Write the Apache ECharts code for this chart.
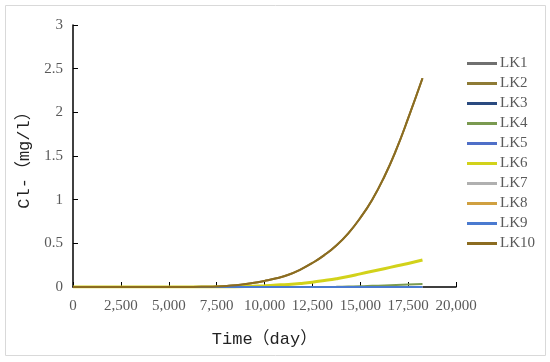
<!DOCTYPE html>
<html>
<head>
<meta charset="utf-8">
<script src="https://cdn.jsdelivr.net/npm/echarts@6/dist/echarts.min.js"></script>
<style>
  html, body { margin: 0; padding: 0; background: #fff; }
  #chart { width: 550px; height: 362px; }
</style>
</head>
<body>
<div id="chart"></div>
<script>
// time in days
const days = [0, 2500, 5000, 6250, 6875, 7500, 8125, 8750, 9375, 10000, 10625, 11250, 11875,
  12500, 13125, 13750, 14375, 15000, 15625, 16250, 16875, 17500, 18250];

const zeros = [0, 0, 0, 0, 0, 0, 0, 0, 0, 0, 0, 0, 0, 0, 0, 0, 0, 0, 0, 0, 0, 0, 0];
const lk1 = zeros;
const lk2 = [0, 0, 0, 0.001, 0.003, 0.006, 0.014, 0.026, 0.045, 0.07, 0.1, 0.14, 0.2,
  0.275, 0.365, 0.475, 0.615, 0.79, 1.0, 1.26, 1.57, 1.93, 2.39];
const lk3 = zeros;
const lk4 = [0, 0, 0, 0, 0, 0, 0, 0, 0, 0, 0, 0, 0,
  0, 0, 0.002, 0.005, 0.008, 0.013, 0.018, 0.023, 0.028, 0.034];
const lk5 = zeros;
const lk6 = [0, 0, 0, 0, 0, 0, 0.001, 0.004, 0.009, 0.015, 0.022, 0.03, 0.041,
  0.055, 0.074, 0.095, 0.12, 0.15, 0.18, 0.21, 0.24, 0.27, 0.31];
const lk7 = zeros;
const lk8 = zeros;
const lk9 = zeros;
const lk10 = [0, 0, 0, 0.001, 0.003, 0.006, 0.014, 0.026, 0.045, 0.07, 0.1, 0.14, 0.2,
  0.275, 0.365, 0.475, 0.615, 0.79, 1.0, 1.26, 1.57, 1.93, 2.39];

const names = ["LK1", "LK2", "LK3", "LK4", "LK5", "LK6", "LK7", "LK8", "LK9", "LK10"];
const values = [lk1, lk2, lk3, lk4, lk5, lk6, lk7, lk8, lk9, lk10];
const colors = ["#707070", "#8e7b35", "#2a4a80", "#7a9a50", "#4f6fc8",
  "#d2d21a", "#b0b0b0", "#d0a040", "#4a7ad0", "#8c6c20"];

var myChart = echarts.init(document.getElementById("chart"));

const labelFont = {
  color: "#595959",
  fontFamily: "Liberation Serif",
  fontSize: 15,
};

var option = {
  animation: false,
  color: colors,
  graphic: [
    {
      type: "rect",
      shape: { x: 5.5, y: 5.5, width: 540, height: 350 },
      style: { fill: "none", stroke: "#d9d9d9", lineWidth: 1 },
      silent: true,
    },
  ],
  grid: {
    left: 73,
    right: 94,
    top: 25,
    bottom: 75,
  },
  legend: {
    orient: "vertical",
    left: 462,
    top: 51,
    itemGap: 5,
    itemWidth: 30,
    itemHeight: 15,
    icon: "path://M0,6 L30,6 L30,9 L0,9 Z",
    textStyle: Object.assign({}, labelFont, { padding: [0, 0, 0, -2] }),
    data: names,
  },
  xAxis: {
    type: "value",
    min: 0,
    max: 20000,
    interval: 2500,
    name: "Time（day）",
    nameLocation: "middle",
    nameGap: 44,
    nameTextStyle: {
      color: "#222",
      fontFamily: "Liberation Mono, Noto Sans CJK SC",
      fontSize: 17,
    },
    axisLine: { lineStyle: { color: "#000", width: 1.5 } },
    axisTick: { inside: true, length: 5, lineStyle: { color: "#000" } },
    splitLine: { show: false },
    axisLabel: Object.assign({}, labelFont, {
      margin: 12,
      formatter: function (v) {
        return String(v).replace(/\B(?=(\d{3})+(?!\d))/g, ",");
      },
    }),
  },
  yAxis: {
    type: "value",
    min: 0,
    max: 3,
    interval: 0.5,
    name: "Cl-（mg/l）",
    nameLocation: "middle",
    nameGap: 38,
    nameRotate: 90,
    nameTextStyle: {
      color: "#222",
      fontFamily: "Liberation Mono, Noto Sans CJK SC",
      fontSize: 17,
    },
    axisLine: { show: true, lineStyle: { color: "#000", width: 1.5 } },
    axisTick: { show: true, inside: true, length: 5, lineStyle: { color: "#000" } },
    splitLine: { show: false },
    axisLabel: Object.assign({}, labelFont, { margin: 10 }),
  },
  series: names.map(function (name, i) {
    return {
      name: name,
      type: "line",
      smooth: true,
      showSymbol: false,
      symbol: "none",
      lineStyle: { width: name === "LK6" ? 3 : 2, color: colors[i] },
      data: days.map(function (d, j) {
        return [d, values[i][j]];
      }),
    };
  }),
};

myChart.setOption(option);
</script>
</body>
</html>
